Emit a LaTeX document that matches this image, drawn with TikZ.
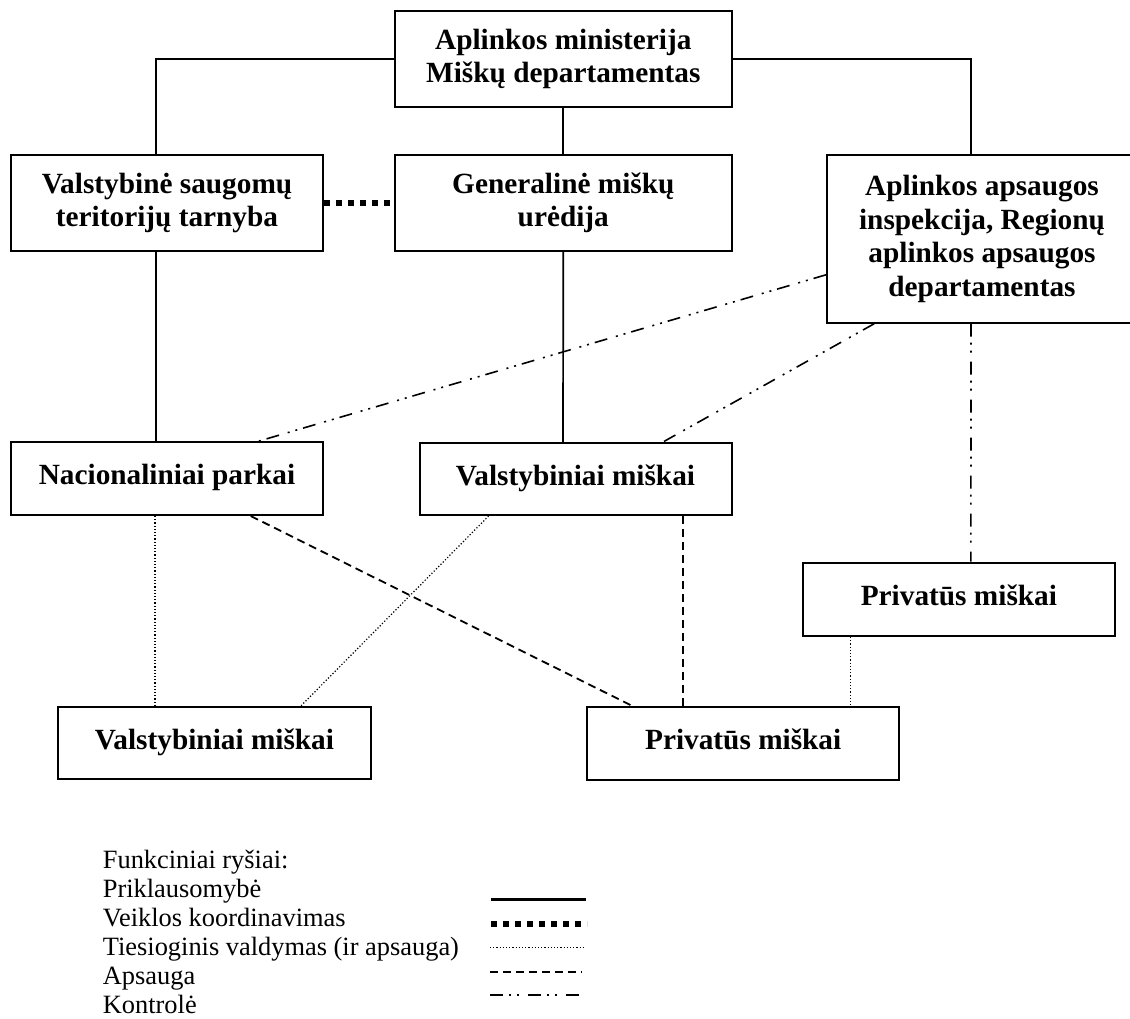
\documentclass[tikz,border=0pt]{standalone}
\usepackage{fontspec}
\setmainfont{Liberation Serif}
\tikzset{
  box/.style={draw, line width=2pt, rectangle, inner sep=0pt, align=center,
    font=\bfseries\fontsize{29.3}{33.5}\selectfont},
  onel/.style={text height=21pt, text depth=9pt},
  prikl/.style={line width=1.7pt},
  koord/.style={line width=6pt, dash pattern=on 6pt off 6pt},
  tiesiog/.style={line width=1.2pt, dash pattern=on 1.2pt off 2pt},
  apsaug/.style={line width=1.8pt, dash pattern=on 8pt off 5pt},
  kontr/.style={line width=1.6pt, dash pattern=on 13pt off 6pt on 2pt off 6pt on 2pt off 9pt},
  legtxt/.style={anchor=base west, inner sep=0pt, font=\fontsize{26.4}{29}\selectfont},
}
\begin{document}
\begin{tikzpicture}[x=1pt,y=-1pt]
\path[use as bounding box] (0,0) rectangle (1130,1018);
\clip (0,0) rectangle (1130,1018);

% boxes
\node[box, minimum width=336.7pt, minimum height=96.3pt] (top) at (563.3,59.2) {Aplinkos ministerija\\Miškų departamentas};
\node[box, minimum width=312.5pt, minimum height=96pt] (vstt) at (167,203) {Valstybinė saugomų\\teritorijų tarnyba};
\node[box, minimum width=336.5pt, minimum height=96pt] (gmu) at (563.3,203) {Generalinė miškų\\urėdija};
\node[box, minimum width=310pt, minimum height=167.7pt] (aai) at (982,238.8) {Aplinkos apsaugos\\inspekcija, Regionų\\aplinkos apsaugos\\departamentas};
\node[box, onel, minimum width=312.3pt, minimum height=72.7pt] (np) at (167,478.7) {Nacionaliniai parkai};
\node[box, onel, minimum width=312pt, minimum height=72pt] (vm) at (575.5,479) {Valstybiniai miškai};
\node[box, onel, minimum width=312.3pt, minimum height=73.3pt] (pm1) at (958.9,599.3) {Privatūs miškai};
\node[box, onel, minimum width=312.4pt, minimum height=71.7pt] (vm2) at (214.5,743.2) {Valstybiniai miškai};
\node[box, onel, minimum width=312.4pt, minimum height=72.7pt] (pm2) at (743.2,743.5) {Privatūs miškai};

% Priklausomybe
\draw[prikl] (top.west) -| ([xshift=-11pt]vstt.north);
\draw[prikl] (top.east) -| ([xshift=-11pt]aai.north);
\draw[prikl] (top.south) -- (gmu.north);
\draw[prikl] ([xshift=-11pt]vstt.south) -- ([xshift=-11pt]np.north);
\draw[prikl] (gmu.south) -- ([xshift=-12.5pt]vm.north);

% Veiklos koordinavimas
\draw[koord] (vstt.east) -- (gmu.west);

% Kontrole
\draw[kontr] ([yshift=-36pt]aai.west) -- ([xshift=91pt]np.north);
\draw[kontr] ([xshift=-107.7pt]aai.south) -- ([xshift=87.5pt]vm.north);
\draw[kontr] ([xshift=-11pt]aai.south) -- ([xshift=12pt]pm1.north);

% Tiesioginis valdymas
\draw[tiesiog] ([xshift=-12pt]np.south) -- ([xshift=-59.5pt]vm2.north);
\draw[tiesiog] ([xshift=-86.9pt]vm.south) -- ([xshift=86pt]vm2.north);
\draw[tiesiog] ([xshift=-108.3pt]pm1.south) -- ([xshift=107.4pt]pm2.north);

% Apsauga
\draw[apsaug] ([xshift=83.8pt]np.south) -- ([xshift=-110.5pt]pm2.north);
\draw[apsaug] ([xshift=107.5pt]vm.south) -- ([xshift=-60.2pt]pm2.north);

% legend
\node[legtxt] (lg0) at (102.7,868.3) {Funkciniai ryšiai:};
\node[legtxt] (lg1) at (102.7,897.3) {Priklausomybė};
\node[legtxt] (lg2) at (102.7,926.3) {Veiklos koordinavimas};
\node[legtxt] (lg3) at (102.7,955.3) {Tiesioginis valdymas (ir apsauga)};
\node[legtxt] (lg4) at (102.7,984.3) {Apsauga};
\node[legtxt] (lg5) at (102.7,1013.3) {Kontrolė};

\coordinate (la1) at (491,899.3); \coordinate (lb1) at (586,899.3);
\coordinate (la2) at (491,924);   \coordinate (lb2) at (587,924);
\coordinate (la3) at (490,947.3); \coordinate (lb3) at (584,947.3);
\coordinate (la4) at (490,971.7); \coordinate (lb4) at (582,971.7);
\coordinate (la5) at (490,995);   \coordinate (lb5) at (582,995);
\draw[line width=2.8pt] (la1) -- (lb1);
\draw[koord] (la2) -- (lb2);
\draw[tiesiog] (la3) -- (lb3);
\draw[apsaug, line width=2pt] (la4) -- (lb4);
\draw[kontr, line width=2.6pt] (la5) -- (lb5);
\end{tikzpicture}
\end{document}
